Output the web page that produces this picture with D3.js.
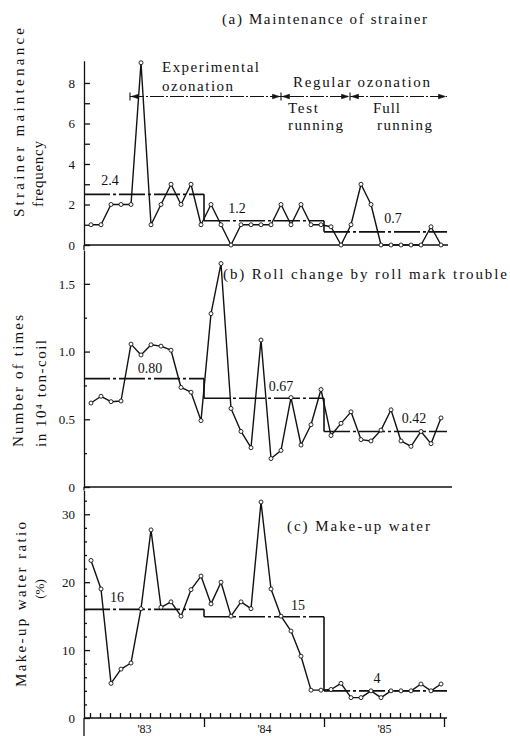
<!DOCTYPE html>
<html><head><meta charset="utf-8">
<script src="https://cdn.jsdelivr.net/npm/d3@7"></script>
<style>
body{margin:0;background:#fff;}
svg{display:block;}
text{font-family:"Liberation Serif","Times New Roman",serif;fill:#111;}
</style></head>
<body><svg id="c" width="510" height="736"></svg>
<script>
// ---------- data ----------
const months = d3.range(36);                 // Jan '83 .. Dec '85
const yearLabels = ["'83","'84","'85"];
const strainer = [1,1,2,2,2,9,1,2,3,2,3,1,2,1,0,1,1,1,1,2,1,2,1,1,0.9,0,1,3,2,0,0,0,0,0,0.9,0];
const rollChange = [0.62,0.67,0.63,0.635,1.055,0.975,1.05,1.04,1.01,0.735,0.70,0.49,1.28,1.65,0.58,0.41,0.29,1.085,0.21,0.27,0.66,0.31,0.46,0.72,0.38,0.47,0.555,0.35,0.34,0.42,0.57,0.34,0.30,0.41,0.32,0.51];
const makeupWater = [23.2,19,5.1,7.2,8.1,16.1,27.7,16.3,17.1,15,18.9,20.9,16.8,20,15,17.1,16.1,31.8,19,15,12.8,9.1,4.1,4.1,4.2,5.1,3,3,4,3,4,4,4,5,4,5];
const periodEdges = [0,12,24,36.3];          // averaging periods (months)
const strainerAvg = [2.5,1.2,0.65];
const strainerAvgLabels = ["2.4","1.2","0.7"];
const rollAvg = [0.80,0.655,0.41];
const rollAvgLabels = ["0.80","0.67","0.42"];
const waterAvg = [16,14.9,4];
const waterAvgLabels = ["16","15","4"];
const ozonationMarks = [4.6,19.7,26.6,36.3]; // period boundaries (months)
const aTicks = [0,1,2,3,4,5,6,7,8];
const aLabels = [0,2,4,6,8];
const bMajor = [0,0.5,1.0,1.5], bMinor = [0.25,0.75,1.25];
const cMajor = [0,10,20,30], cMinor = [2,4,6,8,12,14,16,18,22,24,26,28,32];

// ---------- scales ----------
const svg = d3.select("#c");
const X0 = 84;
const x = d3.scaleLinear().domain([0,36]).range([X0,444]);
const px = i => x(i + 0.7);
const ya = d3.scaleLinear().domain([0,9.1]).range([245,60.7]);
const yb = d3.scaleLinear().domain([0,1.75]).range([487,250]);
const yc = d3.scaleLinear().domain([0,33.5]).range([718,490.5]);

function txt(g, x0, y0, s, o={}){
  const t = g.append("text").attr("x",x0).attr("y",y0).text(s)
    .attr("font-size",o.size||14).attr("text-anchor",o.anchor||"start");
  if(o.len){t.attr("textLength",o.len).attr("lengthAdjust","spacing");}
  if(o.rot){t.attr("transform",`rotate(-90,${x0},${y0})`);}
  return t;
}

function yAxis(y, major, minor, fmt, labels){
  const g = svg.append("g").attr("transform",`translate(${X0},0)`);
  g.call(d3.axisLeft(y).tickValues(major).tickSize(-6).tickSizeOuter(0).tickPadding(9)
     .tickFormat(v => labels.includes(v) ? fmt(v) : ""));
  if(minor.length){
    svg.append("g").attr("transform",`translate(${X0},0)`)
      .call(d3.axisLeft(y).tickValues(minor).tickSize(-3).tickSizeOuter(0).tickFormat(""))
      .select(".domain").remove();
  }
  g.selectAll("text").attr("font-family",'"Liberation Serif",serif').attr("font-size",13).attr("fill","#111");
  g.selectAll("line,path").attr("stroke","#111").attr("stroke-width",1.3);
  svg.selectAll("g line").attr("stroke","#111");
}

function panel(y, data, avg, avgLabels, labelPos, baselineEnd){
  svg.append("line").attr("x1",X0).attr("x2",baselineEnd).attr("y1",y(0)).attr("y2",y(0))
    .attr("stroke","#111").attr("stroke-width",1.3);
  avg.forEach((v,k)=>{
    svg.append("line").attr("x1",x(periodEdges[k])).attr("x2",x(periodEdges[k+1]))
      .attr("y1",y(v)).attr("y2",y(v)).attr("stroke","#111").attr("stroke-width",1.6)
      .attr("stroke-dasharray","26,3,3,3");
    if(k>0){
      svg.append("line").attr("x1",x(periodEdges[k])).attr("x2",x(periodEdges[k]))
        .attr("y1",y(avg[k-1])).attr("y2",y(v)).attr("stroke","#111").attr("stroke-width",1.6);
    }
    txt(svg, labelPos[k][0], labelPos[k][1], avgLabels[k], {size:14, anchor:"middle"});
  });
  svg.append("path").datum(data)
    .attr("d", d3.line().x((d,i)=>px(i)).y(d=>y(d)))
    .attr("fill","none").attr("stroke","#111").attr("stroke-width",1.4).attr("stroke-linejoin","round");
  svg.append("g").selectAll("circle").data(data).join("circle")
    .attr("cx",(d,i)=>px(i)).attr("cy",d=>y(d)).attr("r",2)
    .attr("fill","#fff").attr("stroke","#111").attr("stroke-width",0.9);
}

// ---------- axes ----------
yAxis(ya, aTicks, [], d3.format("d"), aLabels);
yAxis(yb, bMajor, bMinor, v => v===0 ? "0" : d3.format(".1f")(v), bMajor);
yAxis(yc, cMajor, cMinor, d3.format("d"), cMajor);
svg.append("line").attr("x1",X0).attr("x2",X0).attr("y1",ya(0)).attr("y2",yb.range()[1]).attr("stroke","#111").attr("stroke-width",1.3);
svg.append("line").attr("x1",X0).attr("x2",X0).attr("y1",yb(0)).attr("y2",yc.range()[1]).attr("stroke","#111").attr("stroke-width",1.3);
svg.append("line").attr("x1",X0).attr("x2",X0).attr("y1",yc(0)).attr("y2",736).attr("stroke","#111").attr("stroke-width",1.3);

// bottom time axis
const xg1 = svg.append("g").attr("transform",`translate(0,${yc(0)})`)
  .call(d3.axisBottom(x).tickValues(months.map(m=>m+0.6)).tickSize(-5).tickSizeOuter(0).tickFormat(""));
xg1.select(".domain").remove();
const xg2 = svg.append("g").attr("transform",`translate(0,${yc(0)})`)
  .call(d3.axisBottom(x).tickValues([12,24,36]).tickSize(9).tickSizeOuter(0).tickFormat(""));
xg2.select(".domain").remove();
const xg3 = svg.append("g").attr("transform",`translate(0,${yc(0)})`)
  .call(d3.axisBottom(x).tickValues([6,18,30]).tickSize(0).tickPadding(6)
    .tickFormat((d,i)=>yearLabels[i]));
xg3.select(".domain").remove();
xg3.selectAll("text").attr("font-family",'"Liberation Serif",serif').attr("font-size",12).attr("fill","#111");
svg.selectAll("g.tick line").attr("stroke","#111").attr("stroke-width",1.3);

// ---------- panels ----------
panel(ya, strainer, strainerAvg, strainerAvgLabels, [[110,185],[237,213],[393,223]], 448);
panel(yb, rollChange, rollAvg, rollAvgLabels, [[150,373],[281,391],[414,423]], 452);
panel(yc, makeupWater, waterAvg, waterAvgLabels, [[117,602],[298,610],[377,683]], 447);

// ---------- ozonation period annotation ----------
const ay = 96.5;
const ann = svg.append("g").attr("stroke","#111").attr("fill","#111");
ann.append("line").attr("x1",x(ozonationMarks[0])).attr("x2",x(ozonationMarks[3]))
  .attr("y1",ay).attr("y2",ay).attr("stroke-width",1.1).attr("stroke-dasharray","14,2,2,2");
function arrow(xt, dir){
  ann.append("path").attr("d",`M${xt},${ay} L${xt-dir*7},${ay-2.3} L${xt-dir*7},${ay+2.3}Z`).attr("stroke-width",0.6);
}
ozonationMarks.forEach((m,k)=>{
  const xm = x(m);
  if(k<3){ ann.append("line").attr("x1",xm).attr("x2",xm).attr("y1",ay-4).attr("y2",ay+4).attr("stroke-width",1.1); arrow(xm+1.5,-1); }
  if(k>0){ arrow(xm-1.5,1); }
});

// ---------- texts ----------
txt(svg,222,24,"(a) Maintenance of strainer",{size:15,len:205});
txt(svg,223,279,"(b) Roll change by roll mark trouble",{size:15,len:284});
txt(svg,287,531,"(c) Make-up water",{size:15,len:143});
txt(svg,162,72,"Experimental",{size:15,len:97});
txt(svg,162,91,"ozonation",{size:15,len:71});
txt(svg,293,87,"Regular ozonation",{size:15,len:137});
txt(svg,288,113,"Test",{size:15,len:30});
txt(svg,288,130,"running",{size:15,len:55});
txt(svg,373,113,"Full",{size:15,len:27});
txt(svg,377,130,"running",{size:15,len:55});
txt(svg,24,217,"Strainer maintenance",{size:15,len:189,rot:true});
txt(svg,43,207,"frequency",{size:15,len:66,rot:true});
txt(svg,23,447,"Number of times",{size:15,len:132,rot:true});
txt(svg,46,447,"in 10⁴ ton-coil",{size:15,len:107,rot:true});
txt(svg,26,687,"Make-up water ratio",{size:15,len:165,rot:true});
txt(svg,44,589,"(%)",{size:13,anchor:"middle",rot:true});
</script></body></html>
